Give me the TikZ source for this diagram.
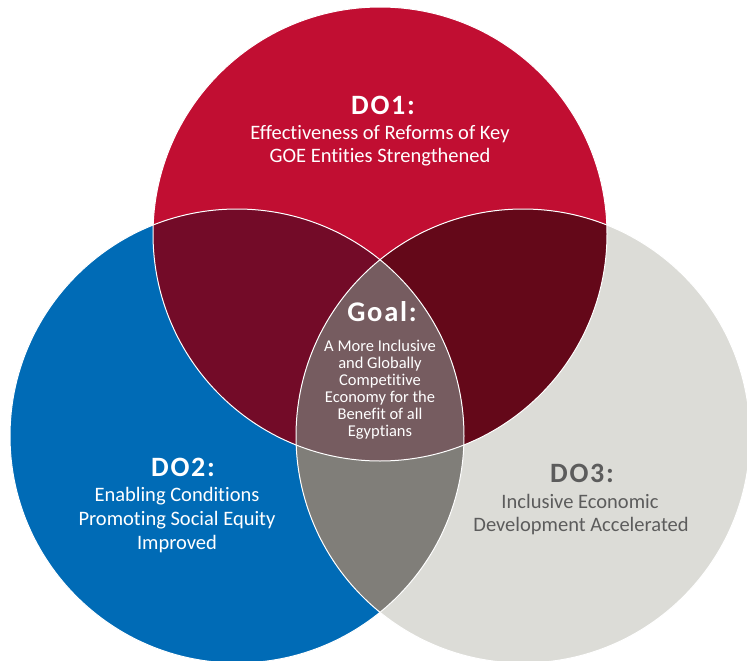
\documentclass[tikz,border=0pt]{standalone}
\usepackage{fontspec}
\setmainfont{Carlito}[Ligatures={NoCommon,NoRare}]
\newfontfamily\ttlfam{Carlito}[LetterSpace=6,Ligatures={NoCommon,NoRare}]
\definecolor{cRed}{RGB}{193,14,50}
\definecolor{cBlue}{RGB}{0,107,182}
\definecolor{cGray}{RGB}{220,220,215}
\definecolor{cRB}{RGB}{115,11,40}
\definecolor{cRG}{RGB}{100,8,25}
\definecolor{cBG}{RGB}{128,126,121}
\definecolor{cRBG}{RGB}{118,92,96}
\definecolor{cDark}{RGB}{92,92,92}
\tikzset{
  ttl/.style={anchor=base, inner sep=0pt, text=white, font=\ttlfam\bfseries\fontsize{28}{30}\selectfont},
  gttl/.style={ttl, font=\ttlfam\bfseries\fontsize{28.5}{30}\selectfont},
  body/.style={anchor=base, inner sep=0pt, text=white, font=\fontsize{20.5}{24}\selectfont},
  gbody/.style={anchor=base, inner sep=0pt, text=white, font=\fontsize{16.5}{18}\selectfont},
  rim/.style={draw=white, line width=1pt}
}
\begin{document}
\begin{tikzpicture}[x=1pt,y=-1pt]
\useasboundingbox (0,0) rectangle (747,661);
\coordinate (R) at (380,234);
\coordinate (B) at (237,436);
\coordinate (G) at (523,436);
\fill[cRed] (R) circle[radius=227pt];
\fill[cBlue] (B) circle[radius=227pt];
\fill[cGray] (G) circle[radius=227pt];
\begin{scope}
  \clip (R) circle[radius=227pt];
  \fill[cRB] (B) circle[radius=227pt];
  \fill[cRG] (G) circle[radius=227pt];
\end{scope}
\begin{scope}
  \clip (B) circle[radius=227pt];
  \fill[cBG] (G) circle[radius=227pt];
\end{scope}
\begin{scope}
  \clip (R) circle[radius=227pt];
  \clip (B) circle[radius=227pt];
  \fill[cRBG] (G) circle[radius=227pt];
\end{scope}
\draw[rim] (R) circle[radius=227pt];
\draw[rim] (B) circle[radius=227pt];
\draw[rim] (G) circle[radius=227pt];

% DO1
\node[ttl] (t1) at (383,114.5) {DO1:};
\node[body] (a1) at (380,139.5) {Effectiveness of Reforms of Key};
\node[body] (a2) at (380,162.5) {GOE Entities Strengthened};

% Goal
\node[gttl] (tg) at (382,321) {Goal:};
\node[gbody] (g1) at (380,351) {A More Inclusive};
\node[gbody] (g2) at (380,368) {and Globally};
\node[gbody] (g3) at (380,385) {Competitive};
\node[gbody] (g4) at (380,402) {Economy for the};
\node[gbody] (g5) at (380,419) {Benefit of all};
\node[gbody] (g6) at (380,436) {Egyptians};

% DO2
\node[ttl] (t2) at (183,476.5) {DO2:};
\node[body] (b1) at (177,501) {Enabling Conditions};
\node[body] (b2) at (177,525) {Promoting Social Equity};
\node[body] (b3) at (177,549) {Improved};

% DO3
\node[ttl, text=cDark] (t3) at (582,482.5) {DO3:};
\node[body, text=cDark] (c1) at (580,508) {Inclusive Economic};
\node[body, text=cDark] (c2) at (581,531) {Development Accelerated};
\end{tikzpicture}
\end{document}
